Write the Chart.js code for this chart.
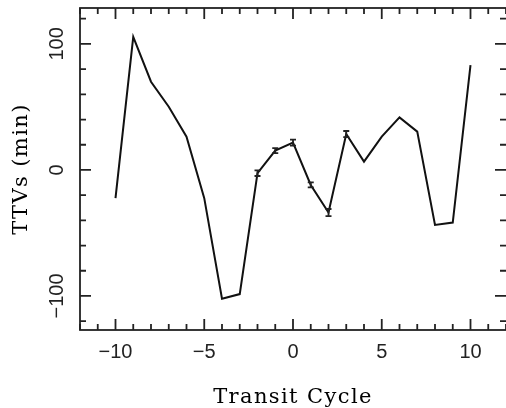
<!DOCTYPE html>
<html lang="en">
<head>
    <meta charset="UTF-8">
    <title>TTVs vs Transit Cycle</title>
    <style>
        html, body {
            margin: 0;
            padding: 0;
            background-color: #fff;
        }
        .chart-wrapper {
            position: relative;
            width: 506px;
            height: 408px;
        }
    </style>
</head>
<body>

    <div class="chart-wrapper">
        <canvas id="ttvChart"></canvas>
    </div>

    <script src="https://cdn.jsdelivr.net/npm/chart.js"></script>

    <script>
        // --- Data ---
        const cycles = [-10, -9, -8, -7, -6, -5, -4, -3, -2, -1, 0, 1, 2, 3, 4, 5, 6, 7, 8, 9, 10];
        const ttvs = [-22.4, 105.6, 70.0, 50.2, 26.4, -22.4, -102.2, -98.5, -2.6, 15.3, 21.7,
                      -11.9, -33.8, 28.5, 6.6, 26.4, 41.7, 30.4, -43.6, -41.7, 83.2];

        // error bars only on the observed transits
        const errCycles = [-2, -1, 0, 1, 2, 3];
        const errValues = [2.2, 2.0, 2.4, 2.0, 2.8, 2.4];

        // axis ticks
        const xMajorTicks = [-10, -5, 0, 5, 10];
        const xMinorTicks = [-12, -11, -9, -8, -7, -6, -4, -3, -2, -1, 1, 2, 3, 4, 6, 7, 8, 9, 11, 12];
        const yMajorTicks = [-100, 0, 100];
        const yMinorTicks = [-120, -80, -60, -40, -20, 20, 40, 60, 80, 120];

        const xRange = [-12, 12];
        const yRange = [-127, 128.5];

        const labelFont = '20px "Liberation Sans", Arial, sans-serif';
        const titleFont = { family: '"DejaVu Serif", "Liberation Serif", serif', size: 21 };

        function fmt(v) {
            return v < 0 ? '\u2212' + Math.abs(v) : String(v);
        }

        // frame, inward tick marks, tick labels and error bars
        const framePlugin = {
            id: 'frame',
            beforeDraw(chart) {
                // the axis titles in the original are set a little wide
                chart.ctx.letterSpacing = '1.4px';
            },
            beforeDatasetsDraw(chart) {
                chart.ctx.letterSpacing = '0px';
            },
            afterDatasetsDraw(chart) {
                const ctx = chart.ctx;
                const area = chart.chartArea;
                const xs = chart.scales.x;
                const ys = chart.scales.y;

                ctx.save();
                ctx.strokeStyle = '#222';
                ctx.lineWidth = 1.8;

                // error bars
                errCycles.forEach(function(c, i) {
                    const idx = cycles.indexOf(c);
                    const px = xs.getPixelForValue(c);
                    const top = ys.getPixelForValue(ttvs[idx] + errValues[i]);
                    const bot = ys.getPixelForValue(ttvs[idx] - errValues[i]);
                    ctx.beginPath();
                    ctx.moveTo(px, top); ctx.lineTo(px, bot);
                    ctx.moveTo(px - 3, top); ctx.lineTo(px + 3, top);
                    ctx.moveTo(px - 3, bot); ctx.lineTo(px + 3, bot);
                    ctx.stroke();
                });

                // box (right side sits just past the canvas edge)
                ctx.strokeRect(area.left, area.top, area.right - area.left + 1.5, area.bottom - area.top);

                function xTick(v, len) {
                    const px = xs.getPixelForValue(v);
                    ctx.moveTo(px, area.bottom); ctx.lineTo(px, area.bottom - len);
                    ctx.moveTo(px, area.top); ctx.lineTo(px, area.top + len);
                }
                function yTick(v, len) {
                    const py = ys.getPixelForValue(v);
                    ctx.moveTo(area.left, py); ctx.lineTo(area.left + len, py);
                    ctx.moveTo(area.right, py); ctx.lineTo(area.right - len, py);
                }
                ctx.beginPath();
                xMajorTicks.forEach(v => xTick(v, 11));
                xMinorTicks.forEach(v => xTick(v, 6));
                yMajorTicks.forEach(v => yTick(v, 11));
                yMinorTicks.forEach(v => yTick(v, 6));
                ctx.stroke();

                // tick labels
                ctx.fillStyle = '#222';
                ctx.font = labelFont;
                ctx.textAlign = 'center';
                ctx.textBaseline = 'alphabetic';
                xMajorTicks.forEach(function(v) {
                    ctx.fillText(fmt(v), xs.getPixelForValue(v), 358);
                });
                // y labels rotated like the original
                yMajorTicks.forEach(function(v) {
                    ctx.save();
                    ctx.translate(63, ys.getPixelForValue(v));
                    ctx.rotate(-Math.PI / 2);
                    ctx.fillText(fmt(v), 0, 0);
                    ctx.restore();
                });
                ctx.restore();
            }
        };

        const ctx = document.getElementById('ttvChart').getContext('2d');
        const ttvChart = new Chart(ctx, {
            type: 'line',
            data: {
                labels: cycles,
                datasets: [{
                    label: 'TTVs',
                    data: cycles.map((c, i) => ({ x: c, y: ttvs[i] })),
                    borderColor: '#111',
                    borderWidth: 2,
                    pointRadius: 0,
                    tension: 0,
                    fill: false
                }]
            },
            options: {
                responsive: true,
                maintainAspectRatio: false,
                animation: false,
                layout: { padding: { top: 8, left: 0, right: 0, bottom: 0 } },
                plugins: {
                    legend: { display: false },
                    tooltip: { enabled: false }
                },
                scales: {
                    x: {
                        type: 'linear',
                        min: xRange[0],
                        max: xRange[1],
                        grid: { display: false, drawTicks: false },
                        border: { display: false },
                        afterFit: function(scale) {
                            scale.height = 78;
                        },
                        ticks: { display: false },
                        title: {
                            display: true,
                            text: 'Transit Cycle',
                            color: '#000',
                            font: titleFont,
                            padding: { top: 0, bottom: -2 }
                        }
                    },
                    y: {
                        type: 'linear',
                        min: yRange[0],
                        max: yRange[1],
                        grid: { display: false, drawTicks: false },
                        border: { display: false },
                        afterFit: function(scale) {
                            scale.width = 80;
                        },
                        ticks: { display: false },
                        title: {
                            display: true,
                            text: 'TTVs (min)',
                            color: '#000',
                            font: titleFont,
                            padding: { top: 9, bottom: 0 }
                        }
                    }
                }
            },
            plugins: [framePlugin]
        });
    </script>
</body>
</html>
